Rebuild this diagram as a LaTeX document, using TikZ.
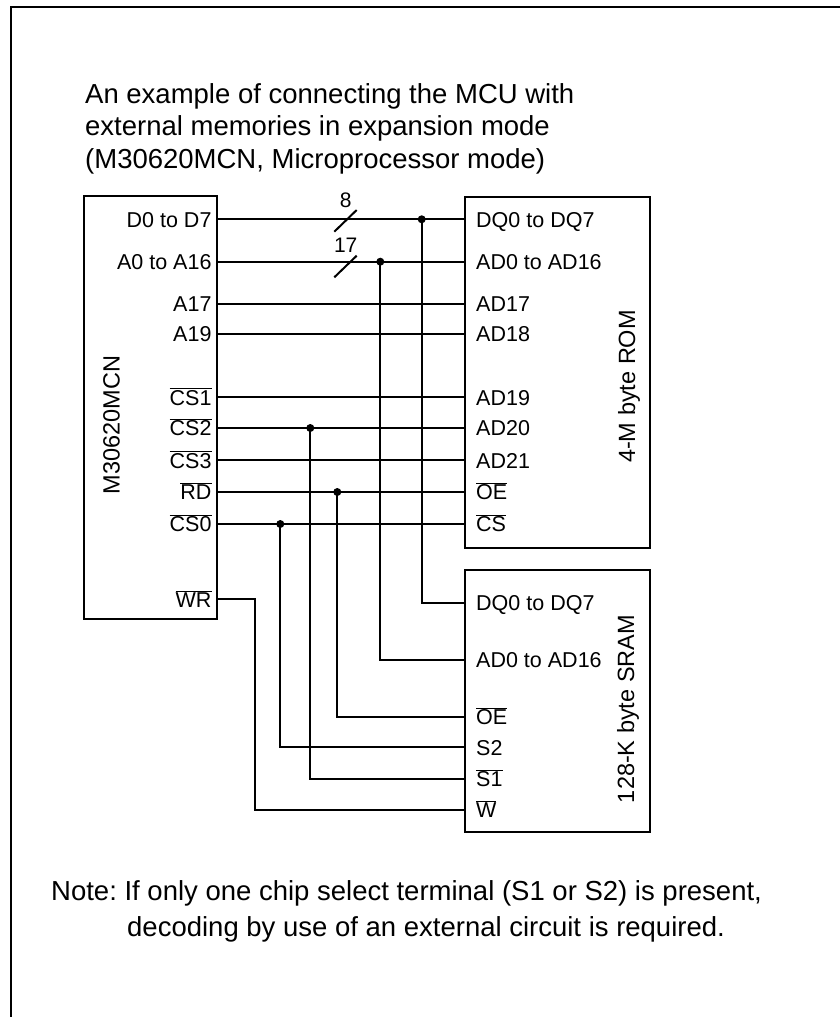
\documentclass[tikz,border=0pt]{standalone}
\usepackage{fontspec}
\setmainfont{Liberation Sans}
\frenchspacing
\usetikzlibrary{positioning}
\tikzset{
  chip/.style={draw,line width=2.4pt,inner sep=0pt},
  wire/.style={line width=2pt},
  pinl/.style={anchor=base west,inner sep=0pt,font=\fontsize{21.5}{26}\selectfont},
  pinr/.style={anchor=base east,inner sep=0pt,font=\fontsize{21.5}{26}\selectfont},
  chipname/.style={rotate=90,inner sep=0pt,font=\fontsize{23.5}{28}\selectfont},
  bigtext/.style={anchor=base west,inner sep=0pt,align=left,font=\fontsize{27.5}{32.5}\selectfont},
  busw/.style={inner sep=0pt,font=\fontsize{21}{24}\selectfont},
  dot/.style={circle,fill,inner sep=0pt,minimum size=8pt},
}
\newcommand{\ovl}[1]{$\overline{\hbox{#1}}$}

\begin{document}
\begin{tikzpicture}[x=1pt,y=-1pt]
      \useasboundingbox (0,0) rectangle (840,1017);
      %% frame
      \draw [line width=2.5pt] (11,1017)-- (11,7)-- (840,7);
      \node[bigtext] (title) at (85,168) {An example of connecting the MCU with\\external memories in expansion mode\\(M30620MCN, Microprocessor mode)};
      %% chips
      \node[chip,minimum width=133pt,minimum height=423pt] (mcu) at (150.5,407.5) {};
      \node[chip,minimum width=185pt,minimum height=351pt] (rom) at (557.5,372.5) {};
      \node[chip,minimum width=185pt,minimum height=262pt] (sram) at (557.5,701) {};
      \node[chipname] (mcuname) at (111.5,425) {M30620MCN};
      \node[chipname] (romname) at (629,386.5) {4-M byte ROM};
      \node[chipname] (sramname) at (628,709) {128-K byte SRAM};
      %% MCU to ROM
      \foreach \i/\y/\ml/\rl in {1/219.3/D0 to D7/DQ0 to DQ7, 2/261.7/A0 to A16/AD0 to AD16,
          3/304/A17/AD17, 4/334/A19/AD18, 5/397.3/\ovl{CS1}/AD19, 6/428/\ovl{CS2}/AD20,
          7/460.3/\ovl{CS3}/AD21, 8/492/\ovl{RD}/\ovl{OE}, 9/524/\ovl{CS0}/\ovl{CS}}{
        \coordinate (m\i) at (217,\y);
        \coordinate (r\i) at (465,\y);
        \node[pinr] (ml\i) at (211.7,\y+7.7) {\ml};
        \node[pinl] (rl\i) at (476,\y+7.7) {\rl};
        \draw [wire] (m\i)-- (r\i);
      }
      \coordinate (mwr) at (217,599.3);
      \node[pinr] (mlwr) at (211.7,607) {\ovl{WR}};
      %% SRAM pins
      \foreach \i/\y/\sl in {1/602.7/DQ0 to DQ7, 2/660/AD0 to AD16, 3/716.7/\ovl{OE},
          4/747.3/S2, 5/778.7/\ovl{S1}, 6/810/\ovl{W}}{
        \coordinate (s\i) at (465,\y);
        \node[pinl] (sl\i) at (476,\y+7.7) {\sl};
      }
      %% junctions
      \node[dot] (jd) at (421.7,219.3) {};
      \node[dot] (ja) at (380.3,261.7) {};
      \node[dot] (jcs2) at (310.3,428) {};
      \node[dot] (jrd) at (337.3,492) {};
      \node[dot] (jcs0) at (280.3,524) {};
      \draw [wire] (jd.center) |- (s1);
      \draw [wire] (ja.center) |- (s2);
      \draw [wire] (jrd.center) |- (s3);
      \draw [wire] (jcs0.center) |- (s4);
      \draw [wire] (jcs2.center) |- (s5);
      \coordinate (wbend) at (254.5,810);
      \draw [wire] (mwr) -| (wbend)-- (s6);
      %% bus widths
      \draw [wire] (334.3,231.7)-- (356.7,210);
      \node[busw] (w8) at (345.7,200.7) {8};
      \draw [wire] (334.3,277.3)-- (356.7,255.7);
      \node[busw] (w17) at (345.7,245) {17};
      %% note
      \node[bigtext] (note1) at (51,900) {Note: If only one chip select terminal (S1 or S2) is present,};
      \node[bigtext] (note2) at (127,936.5) {decoding by use of an external circuit is required.};
\end{tikzpicture}
\end{document}
